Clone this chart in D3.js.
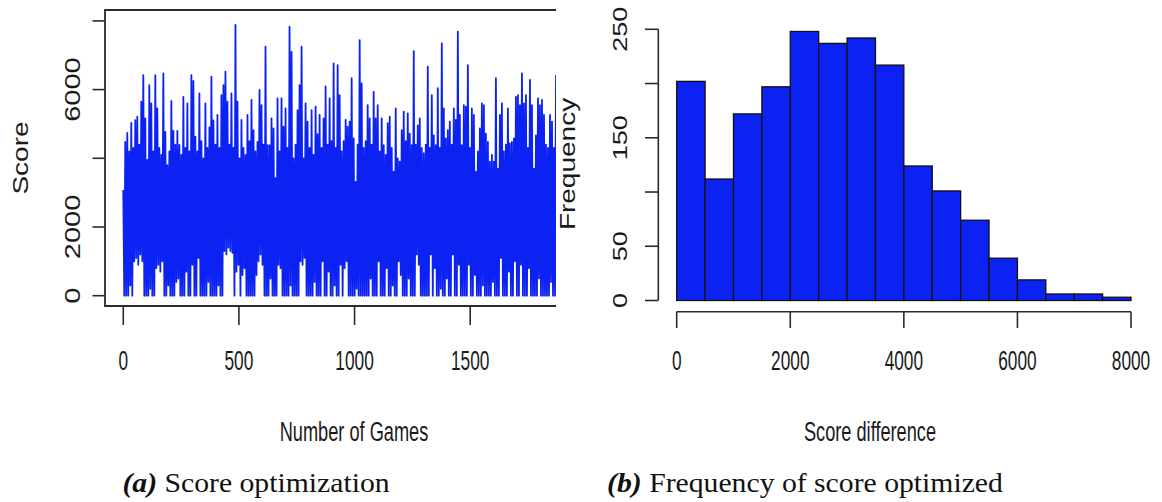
<!DOCTYPE html>
<html>
<head>
<meta charset="utf-8">
<script src="https://cdn.jsdelivr.net/npm/d3@7"></script>
<style>
body{margin:0;background:#fff}
svg text{font-family:"Liberation Sans",Arial,sans-serif;fill:#1a1a1a}
svg .cap{font-family:"Liberation Serif","Times New Roman",serif;fill:#111}
</style>
</head>
<body>
<svg id="graph"></svg>
<script>
// panel (a): score per game (about one value per pixel column)
var scores=[
3080,0,4480,0,4740,0,4200,300,5030,0,4300,1000,5110,1100,5210,900,4400,1200,5650,1000,
6420,0,5160,0,3950,0,6130,200,5600,0,4200,0,6420,800,5450,900,4300,700,4100,1000,
6470,0,4770,0,3800,300,4200,0,5670,0,4800,0,4400,400,4800,500,4390,0,4100,0,
5790,0,4300,700,5600,0,4200,0,6420,900,6250,0,4630,0,4200,1100,5890,0,4500,0,
4000,0,5600,0,4300,400,4900,0,6380,0,5100,0,4400,0,5260,300,4300,0,5840,0,
6130,1300,6520,1200,5650,1400,4400,1300,5890,1250,4300,0,7880,700,5650,900,4000,0,5115,600,
4300,800,4100,0,5260,0,4500,0,5700,0,4820,0,4200,600,4480,1000,5990,1200,5550,900,
4400,0,7250,0,4380,0,4380,500,5160,0,4870,0,3420,0,5740,900,4200,800,5740,0,
4920,0,5450,0,4300,0,7830,300,7100,0,4000,0,4400,0,5400,0,6130,1000,7250,900,
4000,1100,5600,0,5070,0,4300,0,5400,0,4100,400,5500,0,4700,0,5260,0,4300,1000,
5160,0,6090,0,4400,700,5740,0,4500,0,6765,300,4300,0,6715,0,5840,900,4200,0,
4500,800,5115,1000,4920,0,5070,0,6330,0,4580,0,3310,200,4400,0,7440,0,6180,0,
4300,0,4500,0,5550,0,5160,500,4400,0,5935,0,5160,0,5550,1000,4200,0,5160,0,
4380,0,4100,800,5020,0,5210,0,4300,300,3610,0,5450,0,4000,1000,3900,600,4820,0,
5360,0,4500,0,5310,500,4720,0,4380,0,7120,0,4400,1200,4960,900,5160,0,4300,0,
4150,0,4400,0,6670,0,4300,1200,5840,0,4670,800,4380,0,6040,0,4300,200,7345,0,
5450,0,4580,500,4820,0,5070,0,4400,1200,5450,0,5115,0,7690,900,5260,0,4380,0,
5550,0,5500,0,6715,900,4300,0,5450,0,5260,600,3610,0,4200,0,4870,0,5600,300,
5550,0,4720,0,4480,0,3900,0,4100,400,3900,0,6330,0,3700,0,5260,1100,5600,0,
4200,0,4400,0,5450,700,4430,0,4480,0,4580,1000,5790,0,5840,0,5550,900,6470,0,
5600,0,5840,0,4300,800,6280,0,5550,0,3700,0,4670,0,5740,500,5550,0,5700,0,
5260,0,4400,0,4300,0,5260,400,5070,0,4300,0,6425
]
var lastGame=1871
var scoreTicks=[0,2000,4000,6000,8000]
var scoreTickLabels=["0","2000","","6000",""]
var gameTicks=[0,500,1000,1500]

// panel (b): histogram of score differences
var binStarts=[0,500,1000,1500,2000,2500,3000,3500,4000,4500,5000,5500,6000,6500,7000,7500]
var binWidth=500
var binCounts=[202,112,172,197,248,237,242,217,124,101,74,39,19,6,6,3]
var freqTicks=[0,50,100,150,200,250]
var freqTickLabels=["0","50","","150","","250"]
var diffTicks=[0,2000,4000,6000,8000]

var blue="#0b22f2"
var ink="#2a2a2a"

var svg=d3.select("#graph")
    .attr("width",1162)
    .attr("height",502)

var drawScorePanel=function()
{
    var xScale=d3.scaleLinear()
    .domain([-79,lastGame])
    .range([105,556])
    var yScale=d3.scaleLinear()
    .domain([-300,8317])
    .range([306,10])

    svg.append("clipPath")
    .attr("id","clipA")
    .append("rect")
    .attr("x",105).attr("y",10)
    .attr("width",451).attr("height",296)

    var line=d3.line()
    .x(function(d,i){return xScale(i*lastGame/(scores.length-1))})
    .y(function(d){return yScale(d)})

    svg.append("path")
    .datum(scores)
    .attr("clip-path","url(#clipA)")
    .attr("d",line)
    .attr("fill","none")
    .attr("stroke",blue)
    .attr("stroke-width",1.8)
    .attr("stroke-linejoin","round")

    // frame (right side is cut off in the original)
    svg.append("path")
    .attr("d","M556,10H105V306H556")
    .attr("fill","none")
    .attr("stroke",ink)
    .attr("stroke-width",1.8)

    svg.selectAll(".ytickA")
    .data(scoreTicks)
    .enter()
    .append("line")
    .attr("x1",92.5).attr("x2",105)
    .attr("y1",function(d){return yScale(d)})
    .attr("y2",function(d){return yScale(d)})
    .attr("stroke",ink).attr("stroke-width",1.6)

    svg.selectAll(".ylabA")
    .data(scoreTicks)
    .enter()
    .append("text")
    .attr("text-anchor","middle")
    .attr("font-size",29)
    .attr("transform",function(d){return "translate(80,"+yScale(d)+") scale(0.76,1) rotate(-90)"})
    .text(function(d,i){return scoreTickLabels[i]})

    svg.selectAll(".xtickA")
    .data(gameTicks)
    .enter()
    .append("line")
    .attr("x1",function(d){return xScale(d)})
    .attr("x2",function(d){return xScale(d)})
    .attr("y1",306).attr("y2",325)
    .attr("stroke",ink).attr("stroke-width",1.6)

    svg.selectAll(".xlabA")
    .data(gameTicks)
    .enter()
    .append("text")
    .attr("text-anchor","middle")
    .attr("font-size",27)
    .attr("transform",function(d){return "translate("+xScale(d)+",370) scale(0.64,1)"})
    .text(function(d){return d})

    svg.append("text")
    .attr("text-anchor","middle")
    .attr("font-size",28)
    .attr("transform","translate(28,158) scale(0.76,1) rotate(-90)")
    .text("Score")

    svg.append("text")
    .attr("text-anchor","middle")
    .attr("font-size",28)
    .attr("transform","translate(354,441) scale(0.65,1)")
    .text("Number of Games")
}

var drawHistPanel=function()
{
    var xScale=d3.scaleLinear()
    .domain([0,8000])
    .range([676.7,1131])
    var yScale=d3.scaleLinear()
    .domain([0,250])
    .range([300.5,29.3])

    svg.selectAll(".bar")
    .data(binCounts)
    .enter()
    .append("rect")
    .attr("x",function(d,i){return xScale(binStarts[i])})
    .attr("width",function(d,i){return xScale(binStarts[i]+binWidth)-xScale(binStarts[i])})
    .attr("y",function(d){return yScale(d)})
    .attr("height",function(d){return yScale(0)-yScale(d)})
    .attr("fill",blue)
    .attr("stroke","#111")
    .attr("stroke-width",1.3)

    svg.append("line")
    .attr("x1",658.3).attr("x2",658.3)
    .attr("y1",yScale(250)).attr("y2",yScale(0))
    .attr("stroke",ink).attr("stroke-width",1.6)

    svg.selectAll(".ytickB")
    .data(freqTicks)
    .enter()
    .append("line")
    .attr("x1",645).attr("x2",658.3)
    .attr("y1",function(d){return yScale(d)})
    .attr("y2",function(d){return yScale(d)})
    .attr("stroke",ink).attr("stroke-width",1.6)

    svg.selectAll(".ylabB")
    .data(freqTicks)
    .enter()
    .append("text")
    .attr("text-anchor","middle")
    .attr("font-size",27)
    .attr("transform",function(d){return "translate(627,"+yScale(d)+") scale(0.74,1) rotate(-90)"})
    .text(function(d,i){return freqTickLabels[i]})

    svg.append("line")
    .attr("x1",xScale(0)).attr("x2",xScale(8000))
    .attr("y1",311.7).attr("y2",311.7)
    .attr("stroke",ink).attr("stroke-width",1.6)

    svg.selectAll(".xtickB")
    .data(diffTicks)
    .enter()
    .append("line")
    .attr("x1",function(d){return xScale(d)})
    .attr("x2",function(d){return xScale(d)})
    .attr("y1",311.7).attr("y2",328)
    .attr("stroke",ink).attr("stroke-width",1.6)

    svg.selectAll(".xlabB")
    .data(diffTicks)
    .enter()
    .append("text")
    .attr("text-anchor","middle")
    .attr("font-size",27)
    .attr("transform",function(d){return "translate("+xScale(d)+",370) scale(0.64,1)"})
    .text(function(d){return d})

    svg.append("text")
    .attr("text-anchor","middle")
    .attr("font-size",28)
    .attr("transform","translate(575,164) scale(0.76,1) rotate(-90)")
    .text("Frequency")

    svg.append("text")
    .attr("text-anchor","middle")
    .attr("font-size",28)
    .attr("transform","translate(870,441) scale(0.65,1)")
    .text("Score difference")
}

var drawCaption=function(cx,tag,label)
{
    var t=svg.append("text")
    .attr("class","cap")
    .attr("text-anchor","middle")
    .attr("font-size",27)
    .attr("transform","translate("+cx+",492) scale(1.1,1)")
    t.append("tspan")
    .attr("font-weight","bold")
    .attr("font-style","italic")
    .text(tag)
    t.append("tspan")
    .text(" "+label)
}

drawScorePanel()
drawHistPanel()
drawCaption(256,"(a)","Score optimization")
drawCaption(805,"(b)","Frequency of score optimized")
</script>
</body>
</html>
